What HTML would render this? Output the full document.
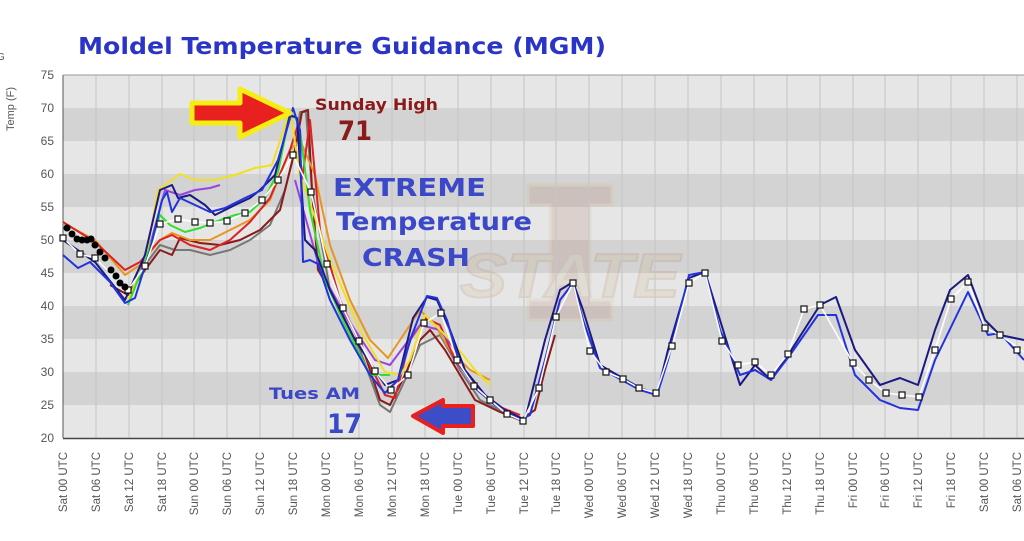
<!DOCTYPE html>
<html><head><meta charset="utf-8"><style>
html,body{margin:0;padding:0;background:#fff;width:1024px;height:541px;overflow:hidden}
svg{display:block}
text{font-family:"Liberation Sans","DejaVu Sans",sans-serif}
.b{font-family:"DejaVu Sans","Liberation Sans",sans-serif;font-weight:bold}
</style></head><body>
<svg width="1024" height="541" viewBox="0 0 1024 541" xmlns="http://www.w3.org/2000/svg">
<rect width="1024" height="541" fill="#fff"/>
<g>
<rect x="63" y="75" width="961" height="363" fill="#e6e6e6"/>
<rect x="63" y="108" width="961" height="33" fill="#d3d3d3"/>
<rect x="63" y="174" width="961" height="33" fill="#d3d3d3"/>
<rect x="63" y="240" width="961" height="33" fill="#d3d3d3"/>
<rect x="63" y="306" width="961" height="33" fill="#d3d3d3"/>
<rect x="63" y="372" width="961" height="33" fill="#d3d3d3"/>
</g>
<g opacity="0.14">
<path d="M528 185 H612 V205 H590 V300 H612 V320 H528 V300 H550 V205 H528 Z" fill="#a0522d" stroke="#d4b060" stroke-width="3"/>
<text x="570" y="297" text-anchor="middle" font-size="62" font-weight="bold" font-style="italic" fill="#c8a860" stroke="#a0522d" stroke-width="2" textLength="220" lengthAdjust="spacingAndGlyphs">STATE</text>
</g>
<g stroke="#c4c4c4" stroke-width="1">
<line x1="96" y1="75" x2="96" y2="438"/><line x1="129" y1="75" x2="129" y2="438"/><line x1="162" y1="75" x2="162" y2="438"/><line x1="194" y1="75" x2="194" y2="438"/><line x1="227" y1="75" x2="227" y2="438"/><line x1="260" y1="75" x2="260" y2="438"/><line x1="293" y1="75" x2="293" y2="438"/><line x1="326" y1="75" x2="326" y2="438"/><line x1="359" y1="75" x2="359" y2="438"/><line x1="392" y1="75" x2="392" y2="438"/><line x1="425" y1="75" x2="425" y2="438"/><line x1="458" y1="75" x2="458" y2="438"/><line x1="491" y1="75" x2="491" y2="438"/><line x1="524" y1="75" x2="524" y2="438"/><line x1="556" y1="75" x2="556" y2="438"/><line x1="589" y1="75" x2="589" y2="438"/><line x1="622" y1="75" x2="622" y2="438"/><line x1="655" y1="75" x2="655" y2="438"/><line x1="688" y1="75" x2="688" y2="438"/><line x1="721" y1="75" x2="721" y2="438"/><line x1="754" y1="75" x2="754" y2="438"/><line x1="787" y1="75" x2="787" y2="438"/><line x1="820" y1="75" x2="820" y2="438"/><line x1="853" y1="75" x2="853" y2="438"/><line x1="885" y1="75" x2="885" y2="438"/><line x1="918" y1="75" x2="918" y2="438"/><line x1="951" y1="75" x2="951" y2="438"/><line x1="984" y1="75" x2="984" y2="438"/><line x1="1017" y1="75" x2="1017" y2="438"/>
</g>
<line x1="63" y1="75" x2="63" y2="438" stroke="#555"/>
<line x1="63" y1="438.5" x2="1024" y2="438.5" stroke="#444" stroke-width="1.5"/>
<line x1="63" y1="75" x2="1024" y2="75" stroke="#999"/>
<g font-size="12" fill="#555" text-anchor="end">
<text x="54" y="79">75</text><text x="54" y="112">70</text><text x="54" y="145">65</text><text x="54" y="178">60</text><text x="54" y="211">55</text><text x="54" y="244">50</text><text x="54" y="277">45</text><text x="54" y="310">40</text><text x="54" y="343">35</text><text x="54" y="376">30</text><text x="54" y="409">25</text><text x="54" y="442">20</text>
</g>
<text transform="translate(14,131) rotate(-90)" font-size="11" fill="#555">Temp (F)</text>
<text x="-3" y="60" font-size="10" fill="#555">G</text>
<g font-size="11.5" fill="#555" text-anchor="end">
<text transform="translate(67,452) rotate(-90)">Sat 00 UTC</text>
<text transform="translate(100,452) rotate(-90)">Sat 06 UTC</text>
<text transform="translate(133,452) rotate(-90)">Sat 12 UTC</text>
<text transform="translate(166,452) rotate(-90)">Sat 18 UTC</text>
<text transform="translate(198,452) rotate(-90)">Sun 00 UTC</text>
<text transform="translate(231,452) rotate(-90)">Sun 06 UTC</text>
<text transform="translate(264,452) rotate(-90)">Sun 12 UTC</text>
<text transform="translate(297,452) rotate(-90)">Sun 18 UTC</text>
<text transform="translate(330,452) rotate(-90)">Mon 00 UTC</text>
<text transform="translate(363,452) rotate(-90)">Mon 06 UTC</text>
<text transform="translate(396,452) rotate(-90)">Mon 12 UTC</text>
<text transform="translate(429,452) rotate(-90)">Mon 18 UTC</text>
<text transform="translate(462,452) rotate(-90)">Tue 00 UTC</text>
<text transform="translate(495,452) rotate(-90)">Tue 06 UTC</text>
<text transform="translate(528,452) rotate(-90)">Tue 12 UTC</text>
<text transform="translate(560,452) rotate(-90)">Tue 18 UTC</text>
<text transform="translate(593,452) rotate(-90)">Wed 00 UTC</text>
<text transform="translate(626,452) rotate(-90)">Wed 06 UTC</text>
<text transform="translate(659,452) rotate(-90)">Wed 12 UTC</text>
<text transform="translate(692,452) rotate(-90)">Wed 18 UTC</text>
<text transform="translate(725,452) rotate(-90)">Thu 00 UTC</text>
<text transform="translate(758,452) rotate(-90)">Thu 06 UTC</text>
<text transform="translate(791,452) rotate(-90)">Thu 12 UTC</text>
<text transform="translate(824,452) rotate(-90)">Thu 18 UTC</text>
<text transform="translate(857,452) rotate(-90)">Fri 00 UTC</text>
<text transform="translate(889,452) rotate(-90)">Fri 06 UTC</text>
<text transform="translate(922,452) rotate(-90)">Fri 12 UTC</text>
<text transform="translate(955,452) rotate(-90)">Fri 18 UTC</text>
<text transform="translate(988,452) rotate(-90)">Sat 00 UTC</text>
<text transform="translate(1021,452) rotate(-90)">Sat 06 UTC</text>
</g>
<g fill="none" stroke-width="2" stroke-linejoin="round">
<polyline stroke="#777" points="145,265 160,245 175,250 190,250 210,255 230,250 250,240 270,225 285,190 295,150 300,112 306,112 312,190 330,290 360,350 380,405 390,412 405,380 420,345 440,335 460,370 480,400 520,420"/>
<polyline stroke="#8b1a1a" points="110,285 128,295 145,270 160,250 172,255 180,238 200,243 220,245 240,240 260,230 280,210 295,150 302,112 308,110 312,190 318,270 330,290 360,340 380,400 390,405 405,375 420,340 430,330 445,350 460,375 475,400 500,412 520,420 535,410 545,370 555,335"/>
<polyline stroke="#e89520" points="63,223 95,240 125,275 140,265 160,240 172,233 190,240 210,240 230,230 250,220 270,200 290,150 300,140 315,175 330,245 350,300 370,340 388,358 400,340 420,310 435,325 450,350 470,370 490,380"/>
<polyline stroke="#dd2222" points="63,222 95,242 125,270 140,262 160,240 172,235 190,245 210,250 230,240 250,222 270,198 290,150 298,125 302,180 310,120 320,230 340,300 365,355 385,395 395,398 410,340 425,318 440,325 455,360 475,385 495,405 520,415"/>
<polyline stroke="#9944dd" points="128,305 150,245 165,190 180,195 195,190 210,188 220,185"/>
<polyline stroke="#9944dd" points="295,180 320,270 345,315 375,360 390,365 405,345 420,325 440,330 455,350"/>
<polyline stroke="#f0e020" points="128,300 145,262 158,190 180,174 195,180 215,180 235,175 255,168 272,165 290,110 300,175 330,260 360,330 385,372 400,375 410,360 425,315 440,330 455,345 475,370 490,385"/>
<polyline stroke="#33dd33" points="128,305 145,262 160,215 170,225 185,232 200,228 215,222 235,215 250,212 265,198 278,172 289,118 295,116 300,130 310,210 325,280 345,325 370,375 390,375"/>
<polyline stroke="#1a1a80" points="63,240 95,262 125,300 145,255 160,190 172,185 178,198 190,195 205,205 215,215 225,210 235,205 250,198 260,190 275,175 290,115 297,118 305,240 315,250 330,290 355,340 375,370 385,385 398,380 413,318 427,297 437,300 450,330 465,370 485,395 505,410 525,420 545,340 560,290 573,282 583,310 600,365 640,388 657,394 668,350 689,278 705,272 720,320 740,385 755,365 771,380 790,352 820,305 836,297 855,350 880,385 900,378 918,385 935,330 950,290 968,275 985,320 1000,335 1024,340"/>
<polyline stroke="#2233dd" points="63,255 78,268 90,262 110,282 125,303 135,298 150,250 162,200 167,192 172,212 180,198 195,205 210,212 225,208 245,198 262,190 278,160 293,108 300,130 303,262 310,260 318,264 330,300 350,340 370,375 385,393 398,380 412,335 427,296 437,298 447,320 460,365 475,388 495,405 520,420 530,415 545,360 560,300 573,283 583,320 600,368 640,390 657,395 668,360 689,275 705,272 720,330 740,375 755,370 771,380 790,355 818,315 836,315 855,375 880,400 900,408 918,410 935,360 968,292 988,335 1000,333 1024,360"/>
<polyline stroke="#fff" stroke-width="1.5" points="63,238 80,254 95,258 128,290 145,266 160,224 178,219 195,222 210,223 227,221 245,213 262,200 278,180 293,155 311,192 327,264 343,308 359,341 375,371 391,390 408,375 424,323 441,313 457,360 474,386 490,400 507,414 523,421 539,388 556,317 573,283 590,351 606,372 623,379 639,388 656,393 672,346 689,283 705,273 722,341 738,365 755,362 771,375 788,354 804,309 820,305 853,363 869,380 886,393 902,395 919,397 935,350 951,299 968,282 985,328 1000,335 1024,352"/>
</g>
<g fill="#fff" stroke="#111" stroke-width="1.2">
<rect x="60" y="235" width="6" height="6"/><rect x="77" y="251" width="6" height="6"/><rect x="92" y="255" width="6" height="6"/><rect x="125" y="287" width="6" height="6"/><rect x="142" y="263" width="6" height="6"/><rect x="157" y="221" width="6" height="6"/><rect x="175" y="216" width="6" height="6"/><rect x="192" y="219" width="6" height="6"/><rect x="207" y="220" width="6" height="6"/><rect x="224" y="218" width="6" height="6"/><rect x="242" y="210" width="6" height="6"/><rect x="259" y="197" width="6" height="6"/><rect x="275" y="177" width="6" height="6"/><rect x="290" y="152" width="6" height="6"/><rect x="308" y="189" width="6" height="6"/><rect x="324" y="261" width="6" height="6"/><rect x="340" y="305" width="6" height="6"/><rect x="356" y="338" width="6" height="6"/><rect x="372" y="368" width="6" height="6"/><rect x="388" y="387" width="6" height="6"/><rect x="405" y="372" width="6" height="6"/><rect x="421" y="320" width="6" height="6"/><rect x="438" y="310" width="6" height="6"/><rect x="454" y="357" width="6" height="6"/><rect x="471" y="383" width="6" height="6"/><rect x="487" y="397" width="6" height="6"/><rect x="504" y="411" width="6" height="6"/><rect x="520" y="418" width="6" height="6"/><rect x="536" y="385" width="6" height="6"/><rect x="553" y="314" width="6" height="6"/><rect x="570" y="280" width="6" height="6"/><rect x="587" y="348" width="6" height="6"/><rect x="603" y="369" width="6" height="6"/><rect x="620" y="376" width="6" height="6"/><rect x="636" y="385" width="6" height="6"/><rect x="653" y="390" width="6" height="6"/><rect x="669" y="343" width="6" height="6"/><rect x="686" y="280" width="6" height="6"/><rect x="702" y="270" width="6" height="6"/><rect x="719" y="338" width="6" height="6"/><rect x="735" y="362" width="6" height="6"/><rect x="752" y="359" width="6" height="6"/><rect x="768" y="372" width="6" height="6"/><rect x="785" y="351" width="6" height="6"/><rect x="801" y="306" width="6" height="6"/><rect x="817" y="302" width="6" height="6"/><rect x="850" y="360" width="6" height="6"/><rect x="866" y="377" width="6" height="6"/><rect x="883" y="390" width="6" height="6"/><rect x="899" y="392" width="6" height="6"/><rect x="916" y="394" width="6" height="6"/><rect x="932" y="347" width="6" height="6"/><rect x="948" y="296" width="6" height="6"/><rect x="965" y="279" width="6" height="6"/><rect x="982" y="325" width="6" height="6"/><rect x="997" y="332" width="6" height="6"/><rect x="1014" y="347" width="6" height="6"/>
</g>
<g fill="#000">
<circle cx="67" cy="228" r="3.5"/><circle cx="72" cy="234" r="3.5"/><circle cx="77" cy="239" r="3.5"/><circle cx="82" cy="240" r="3.5"/><circle cx="87" cy="240" r="3.5"/><circle cx="91" cy="239" r="3.5"/><circle cx="95" cy="245" r="3.5"/><circle cx="100" cy="252" r="3.5"/><circle cx="105" cy="258" r="3.5"/><circle cx="111" cy="270" r="3.5"/><circle cx="116" cy="276" r="3.5"/><circle cx="120" cy="283" r="3.5"/><circle cx="125" cy="287" r="3.5"/>
</g>
<path d="M192 103 H240 V89 L290 113 L240 137 V123 H192 Z" fill="#e8201e" stroke="#f6ee10" stroke-width="5" stroke-linejoin="round"/>
<path d="M413 416 L443 400 V406 H473 V426 H443 V433 Z" fill="#3b4ec8" stroke="#e8201e" stroke-width="4" stroke-linejoin="round"/>
<text class="b" x="78" y="54" font-size="23" fill="#2a35c8" textLength="528" lengthAdjust="spacingAndGlyphs">Moldel Temperature Guidance (MGM)</text>
<text class="b" x="315" y="110" font-size="16" fill="#8b1a1a" textLength="123" lengthAdjust="spacingAndGlyphs">Sunday High</text>
<text class="b" x="338" y="140" font-size="27" fill="#8b1a1a" textLength="34" lengthAdjust="spacingAndGlyphs">71</text>
<text class="b" x="333" y="196" font-size="25" fill="#3b48c8" textLength="153" lengthAdjust="spacingAndGlyphs">EXTREME</text>
<text class="b" x="336" y="230" font-size="25" fill="#3b48c8" textLength="196" lengthAdjust="spacingAndGlyphs">Temperature</text>
<text class="b" x="362" y="266" font-size="25" fill="#3b48c8" textLength="108" lengthAdjust="spacingAndGlyphs">CRASH</text>
<text class="b" x="269" y="399" font-size="16" fill="#3b48c8" textLength="91" lengthAdjust="spacingAndGlyphs">Tues  AM</text>
<text class="b" x="327" y="433" font-size="27" fill="#3b48c8" textLength="35" lengthAdjust="spacingAndGlyphs">17</text>
</svg>
</body></html>
